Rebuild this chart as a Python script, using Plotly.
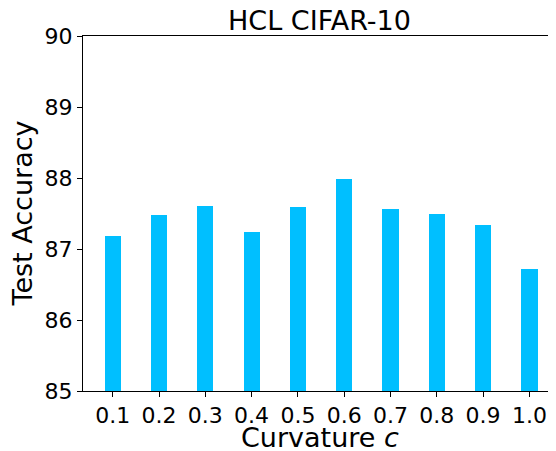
import plotly.graph_objects as go

curvature = [0.1, 0.2, 0.3, 0.4, 0.5, 0.6, 0.7, 0.8, 0.9, 1.0]
accuracy = [87.19, 87.48, 87.60, 87.24, 87.59, 87.99, 87.56, 87.49, 87.34, 86.72]
tick_labels = ["0.1", "0.2", "0.3", "0.4", "0.5", "0.6", "0.7", "0.8", "0.9", "1.0"]

fig = go.Figure(go.Bar(
    x=curvature, y=accuracy, width=0.035,
    marker=dict(color="#00BFFF", line=dict(width=0)),
))

# page body has an 8px default margin, so the figure is sized to end at the window edge
fig.update_layout(
    width=548, height=443,
    margin=dict(l=75, r=0, t=28, b=60, autoexpand=False),
    paper_bgcolor="white", plot_bgcolor="white",
    font=dict(family="DejaVu Sans", color="black"),
    showlegend=False,
    title=dict(text="HCL CIFAR-10", x=0.5, xref="paper", xanchor="center",
               y=1, yref="paper", yanchor="bottom", pad=dict(b=6),
               font=dict(size=27)),
    bargap=0,
    annotations=[
        dict(text="Curvature <i>c</i>", xref="paper", yref="paper", x=0.5, y=0,
             xanchor="center", yanchor="top", yshift=-29, showarrow=False,
             font=dict(size=27)),
        dict(text="Test Accuracy", xref="paper", yref="paper", x=0, y=0.5,
             xanchor="center", yanchor="middle", xshift=-61, textangle=-90,
             showarrow=False, font=dict(size=27)),
    ],
)
fig.update_xaxes(
    range=[0.0358, 1.0574], tickvals=curvature, ticktext=tick_labels,
    showline=True, linecolor="black", linewidth=1, mirror=True,
    ticks="outside", ticklen=5, tickcolor="black", showgrid=False,
    zeroline=False, tickfont=dict(size=22), automargin=False,
)
fig.update_yaxes(
    range=[85, 90], dtick=1,
    showline=True, linecolor="black", linewidth=1,
    ticks="outside", ticklen=5, tickcolor="black", showgrid=False,
    zeroline=False, tickfont=dict(size=22), automargin=False,
)
fig.write_html("out.html")
